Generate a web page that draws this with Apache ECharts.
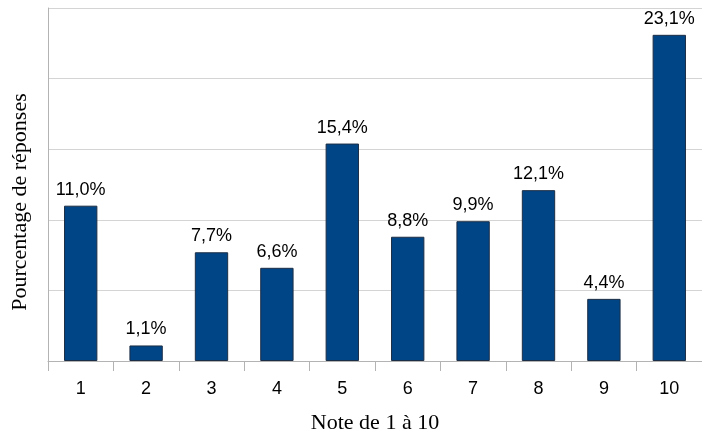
<!DOCTYPE html>
<html>
<head>
<meta charset="utf-8">
<script src="https://cdn.jsdelivr.net/npm/echarts@6/dist/echarts.min.js"></script>
<style>html,body{margin:0;padding:0;background:#fff;}#c{width:702px;height:439px;}</style>
</head>
<body>
<div id="c"></div>
<script>
var categories = ['1','2','3','4','5','6','7','8','9','10'];
var values = [11.0, 1.1, 7.7, 6.6, 15.4, 8.8, 9.9, 12.1, 4.4, 23.1];
var xTitle = 'Note de 1 à 10';
var yTitle = 'Pourcentage de réponses';

var chart = echarts.init(document.getElementById('c'), null, {renderer: 'canvas'});
chart.setOption({
  animation: false,
  backgroundColor: '#ffffff',
  grid: {left: 48, width: 657, top: 8, bottom: 77, containLabel: false},
  graphic: [{
    type: 'text',
    x: 20, y: 202,
    rotation: Math.PI / 2,
    style: {
      text: yTitle,
      fontFamily: 'Liberation Serif',
      fontSize: 22,
      fill: '#000',
      textAlign: 'center',
      textVerticalAlign: 'middle'
    }
  }],
  xAxis: {
    type: 'category',
    data: categories,
    name: xTitle,
    nameLocation: 'middle',
    nameGap: 51,
    nameTextStyle: {fontFamily: 'Liberation Serif', fontSize: 22, color: '#000'},
    axisLine: {show: true, lineStyle: {color: '#b3b3b3', width: 1}},
    axisTick: {show: true, alignWithLabel: false, length: 10, lineStyle: {color: '#b3b3b3'}},
    axisLabel: {fontFamily: 'Liberation Sans', fontSize: 18, color: '#000', margin: 19}
  },
  yAxis: {
    type: 'value',
    min: 0, max: 25, interval: 5,
    axisLine: {show: true, lineStyle: {color: '#b3b3b3', width: 1}},
    axisTick: {show: false},
    axisLabel: {show: false},
    splitLine: {show: true, lineStyle: {color: '#d4d4d4', width: 1}}
  },
  series: [{
    type: 'bar',
    data: values,
    barWidth: '51%',
    itemStyle: {color: '#004586', borderColor: '#1c2e45', borderWidth: 1},
    label: {
      show: true,
      position: 'top',
      distance: 7,
      fontFamily: 'Liberation Sans',
      fontSize: 18,
      color: '#000',
      formatter: function (p) { return p.value.toFixed(1).replace('.', ',') + '%'; }
    }
  }]
});
</script>
</body>
</html>
